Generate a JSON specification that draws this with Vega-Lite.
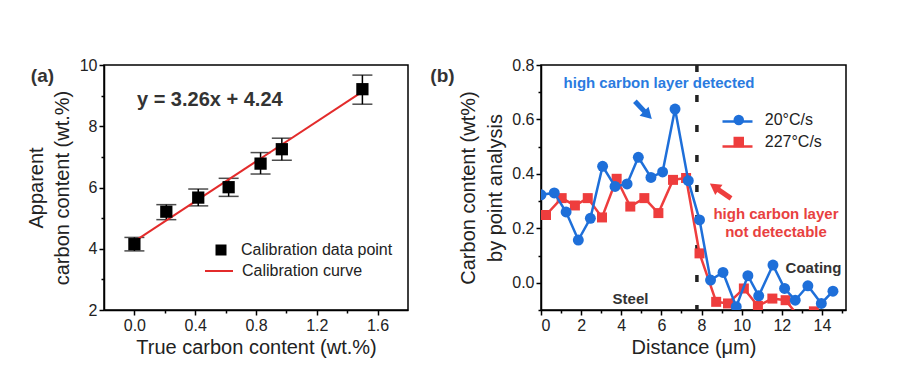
{
  "$schema": "https://vega.github.io/schema/vega-lite/v6.json",
  "background": "white",
  "padding": {"left": 25, "top": 56, "right": 0, "bottom": 0},
  "spacing": 20,
  "datasets": {
    "cal": [
      {"x": 0.0, "y": 4.15, "lo": 3.93, "hi": 4.37},
      {"x": 0.21, "y": 5.21, "lo": 4.95, "hi": 5.44},
      {"x": 0.42, "y": 5.67, "lo": 5.4, "hi": 5.95},
      {"x": 0.62, "y": 6.01, "lo": 5.71, "hi": 6.3},
      {"x": 0.83, "y": 6.78, "lo": 6.44, "hi": 7.14},
      {"x": 0.97, "y": 7.25, "lo": 6.89, "hi": 7.61},
      {"x": 1.5, "y": 9.21, "lo": 8.72, "hi": 9.67}
    ],
    "fit": [
      {"x": 0.02, "y": 4.305},
      {"x": 1.49, "y": 9.097}
    ],
    "eq": [{"x": 0.496, "y": 8.86, "text": "y = 3.26x + 4.24"}],
    "tagA": [{"x": -0.605, "y": 9.64, "text": "(a)"}],
    "blue": [
      {"x": 0, "y": 0.323, "rate": "20°C/s"},
      {"x": 0.66, "y": 0.33, "rate": "20°C/s"},
      {"x": 1.25, "y": 0.26, "rate": "20°C/s"},
      {"x": 1.86, "y": 0.157, "rate": "20°C/s"},
      {"x": 2.46, "y": 0.237, "rate": "20°C/s"},
      {"x": 3.07, "y": 0.428, "rate": "20°C/s"},
      {"x": 3.69, "y": 0.354, "rate": "20°C/s"},
      {"x": 4.29, "y": 0.363, "rate": "20°C/s"},
      {"x": 4.85, "y": 0.461, "rate": "20°C/s"},
      {"x": 5.48, "y": 0.387, "rate": "20°C/s"},
      {"x": 6.06, "y": 0.407, "rate": "20°C/s"},
      {"x": 6.68, "y": 0.638, "rate": "20°C/s"},
      {"x": 7.34, "y": 0.375, "rate": "20°C/s"},
      {"x": 7.9, "y": 0.231, "rate": "20°C/s"},
      {"x": 8.45, "y": 0.01, "rate": "20°C/s"},
      {"x": 9.07, "y": 0.038, "rate": "20°C/s"},
      {"x": 9.73, "y": -0.088, "rate": "20°C/s"},
      {"x": 10.31, "y": 0.026, "rate": "20°C/s"},
      {"x": 10.85, "y": -0.048, "rate": "20°C/s"},
      {"x": 11.56, "y": 0.065, "rate": "20°C/s"},
      {"x": 12.14, "y": -0.021, "rate": "20°C/s"},
      {"x": 12.67, "y": -0.064, "rate": "20°C/s"},
      {"x": 13.3, "y": -0.011, "rate": "20°C/s"},
      {"x": 13.97, "y": -0.076, "rate": "20°C/s"},
      {"x": 14.55, "y": -0.031, "rate": "20°C/s"}
    ],
    "red": [
      {"x": 0.25, "y": 0.249, "rate": "227°C/s"},
      {"x": 1.03, "y": 0.311, "rate": "227°C/s"},
      {"x": 1.69, "y": 0.284, "rate": "227°C/s"},
      {"x": 2.33, "y": 0.311, "rate": "227°C/s"},
      {"x": 3.04, "y": 0.24, "rate": "227°C/s"},
      {"x": 3.77, "y": 0.382, "rate": "227°C/s"},
      {"x": 4.45, "y": 0.28, "rate": "227°C/s"},
      {"x": 5.15, "y": 0.311, "rate": "227°C/s"},
      {"x": 5.85, "y": 0.256, "rate": "227°C/s"},
      {"x": 6.58, "y": 0.378, "rate": "227°C/s"},
      {"x": 7.23, "y": 0.385, "rate": "227°C/s"},
      {"x": 7.9, "y": 0.108, "rate": "227°C/s"},
      {"x": 8.73, "y": -0.07, "rate": "227°C/s"},
      {"x": 9.32, "y": -0.076, "rate": "227°C/s"},
      {"x": 10.11, "y": -0.021, "rate": "227°C/s"},
      {"x": 10.81, "y": -0.085, "rate": "227°C/s"},
      {"x": 11.53, "y": -0.058, "rate": "227°C/s"},
      {"x": 12.19, "y": -0.064, "rate": "227°C/s"},
      {"x": 12.9, "y": -0.13, "rate": "227°C/s"},
      {"x": 13.6, "y": -0.105, "rate": "227°C/s"},
      {"x": 14.3, "y": -0.14, "rate": "227°C/s"}
    ],
    "divider": [{"x": 7.77}],
    "blueText": [{"x": 5.88, "y": 0.734, "text": "high carbon layer detected"}],
    "redText": [
      {"x": 11.71, "y": 0.251, "text": "high carbon layer"},
      {"x": 11.71, "y": 0.188, "text": "not detectable"}
    ],
    "darkText": [
      {"x": 13.58, "y": 0.055, "text": "Coating"},
      {"x": 4.46, "y": -0.059, "text": "Steel"}
    ],
    "tagB": [{"x": -4.91, "y": 0.759, "text": "(b)"}],
    "blueShaft": [{"x": 4.68, "y": 0.667, "x2": 5.2, "y2": 0.626}],
    "blueHead": [{"x": 5.33, "y": 0.616}],
    "redShaft": [{"x": 9.47, "y": 0.31, "x2": 8.8, "y2": 0.344}],
    "redHead": [{"x": 8.64, "y": 0.353}]
  },
  "hconcat": [
    {
      "width": 304,
      "height": 245,
      "layer": [
        {
          "data": {"name": "cal"},
          "mark": {"type": "rule", "color": "black", "strokeWidth": 1.5},
          "encoding": {
            "x": {
              "field": "x", "type": "quantitative",
              "scale": {"domain": [-0.2, 1.8], "nice": false, "zero": false},
              "axis": {
                "values": [0, 0.2, 0.4, 0.6, 0.8, 1.0, 1.2, 1.4, 1.6],
                "tickCount": 40,
                "labelExpr": "abs(round(datum.value*10)%4)==0 ? format(datum.value,'.1f') : ''",
                "tickSize": {"condition": {"test": "abs(round(datum.value*10)%4)==0", "value": 5}, "value": 3},
                "title": "True carbon content (wt.%)",
                "titlePadding": 4
              }
            },
            "y": {
              "field": "lo", "type": "quantitative",
              "scale": {"domain": [2, 10], "nice": false, "zero": false},
              "axis": {
                "values": [2, 3, 4, 5, 6, 7, 8, 9, 10],
                "tickCount": 40,
                "labelExpr": "datum.value%2==0 ? format(datum.value,'d') : ''",
                "tickSize": {"condition": {"test": "datum.value%2==0", "value": 5}, "value": 3},
                "title": ["Apparent", "carbon content (wt.%)"],
                "titleLineHeight": 26,
                "titlePadding": 7
              }
            },
            "y2": {"field": "hi"}
          }
        },
        {
          "data": {"name": "cal"},
          "mark": {"type": "tick", "orient": "horizontal", "color": "black", "size": 20, "thickness": 1.5},
          "encoding": {
            "x": {"field": "x", "type": "quantitative"},
            "y": {"field": "lo", "type": "quantitative"}
          }
        },
        {
          "data": {"name": "cal"},
          "mark": {"type": "tick", "orient": "horizontal", "color": "black", "size": 20, "thickness": 1.5},
          "encoding": {
            "x": {"field": "x", "type": "quantitative"},
            "y": {"field": "hi", "type": "quantitative"}
          }
        },
        {
          "data": {"name": "fit"},
          "mark": {"type": "line", "strokeWidth": 2},
          "encoding": {
            "x": {"field": "x", "type": "quantitative"},
            "y": {"field": "y", "type": "quantitative"},
            "stroke": {
              "datum": "Calibration curve",
              "scale": {"domain": ["Calibration curve"], "range": ["#e32b2b"]},
              "legend": {
                "orient": "none", "legendX": 100, "legendY": 191, "title": null,
                "labelFontSize": 16, "labelColor": "#222",
                "symbolType": "stroke", "symbolSize": 784, "symbolStrokeWidth": 2,
                "symbolOffset": 0, "labelOffset": 8, "padding": 0
              }
            }
          }
        },
        {
          "data": {"name": "cal"},
          "mark": {"type": "point", "shape": "square", "filled": true, "size": 150, "opacity": 1},
          "encoding": {
            "x": {"field": "x", "type": "quantitative"},
            "y": {"field": "y", "type": "quantitative"},
            "fill": {
              "datum": "Calibration data point",
              "scale": {"domain": ["Calibration data point"], "range": ["black"]},
              "legend": {
                "orient": "none", "legendX": 100, "legendY": 177, "title": null,
                "labelFontSize": 16, "labelColor": "#222",
                "symbolType": "square", "symbolSize": 121, "symbolOpacity": 1,
                "symbolOffset": 9, "labelOffset": 12, "padding": 0
              }
            }
          }
        },
        {
          "data": {"name": "eq"},
          "mark": {"type": "text", "fontSize": 20, "fontWeight": "bold", "color": "#333"},
          "encoding": {
            "x": {"field": "x", "type": "quantitative"},
            "y": {"field": "y", "type": "quantitative"},
            "text": {"field": "text"}
          }
        },
        {
          "data": {"name": "tagA"},
          "mark": {"type": "text", "fontSize": 19, "fontWeight": "bold", "color": "#333"},
          "encoding": {
            "x": {"field": "x", "type": "quantitative"},
            "y": {"field": "y", "type": "quantitative"},
            "text": {"field": "text"}
          }
        }
      ]
    },
    {
      "width": 305,
      "height": 245,
      "layer": [
        {
          "data": {"name": "divider"},
          "mark": {"type": "rule", "color": "#222", "strokeWidth": 3.5, "strokeDash": [7, 23]},
          "encoding": {
            "x": {
              "field": "x", "type": "quantitative",
              "scale": {"domain": [0, 15.2], "nice": false, "zero": false},
              "axis": {
                "values": [0, 1, 2, 3, 4, 5, 6, 7, 8, 9, 10, 11, 12, 13, 14, 15],
                "tickCount": 40,
                "labelExpr": "datum.value%2==0 ? format(datum.value,'d') : ''",
                "tickSize": {"condition": {"test": "datum.value%2==0", "value": 5}, "value": 3},
                "title": "Distance (μm)",
                "titlePadding": 4
              }
            }
          }
        },
        {
          "data": {"name": "red"},
          "mark": {"type": "line", "strokeWidth": 2.5, "clip": true},
          "encoding": {
            "x": {"field": "x", "type": "quantitative"},
            "y": {
              "field": "y", "type": "quantitative",
              "scale": {"domain": [-0.1, 0.8], "nice": false, "zero": false},
              "axis": {
                "values": [-0.1, 0, 0.1, 0.2, 0.3, 0.4, 0.5, 0.6, 0.7, 0.8],
                "tickCount": 40,
                "labelExpr": "(datum.value == 0 || datum.value == 0.2 || datum.value == 0.4 || datum.value == 0.6 || datum.value == 0.8) ? format(datum.value, '.1f') : ''",
                "tickSize": {"condition": {"test": "datum.value == 0 || datum.value == 0.2 || datum.value == 0.4 || datum.value == 0.6 || datum.value == 0.8", "value": 5}, "value": 3},
                "title": ["Carbon content (wt%)", "by point analysis"],
                "titleLineHeight": 27,
                "titlePadding": 6
              }
            },
            "stroke": {
              "field": "rate", "type": "nominal",
              "scale": {"domain": ["20°C/s", "227°C/s"], "range": ["#1e6fd9", "#ee3d3d"]},
              "legend": {
                "orient": "none", "legendX": 180, "legendY": 40, "title": null,
                "labelFontSize": 16, "labelExpr": "''",
                "symbolType": "stroke", "symbolSize": 900, "symbolStrokeWidth": 2.5,
                "symbolOffset": 0, "labelOffset": 0, "rowPadding": -10, "padding": 0
              }
            }
          }
        },
        {
          "data": {"name": "red"},
          "mark": {"type": "point", "filled": true, "size": 100, "opacity": 1, "clip": true},
          "encoding": {
            "x": {"field": "x", "type": "quantitative"},
            "y": {"field": "y", "type": "quantitative"},
            "fill": {"field": "rate", "type": "nominal"},
            "shape": {"field": "rate", "type": "nominal"}
          }
        },
        {
          "data": {"name": "blue"},
          "mark": {"type": "line", "strokeWidth": 2.5, "clip": true},
          "encoding": {
            "x": {"field": "x", "type": "quantitative"},
            "y": {"field": "y", "type": "quantitative"},
            "stroke": {"field": "rate", "type": "nominal"}
          }
        },
        {
          "data": {"name": "blue"},
          "mark": {"type": "point", "filled": true, "size": 120, "opacity": 1, "clip": true},
          "encoding": {
            "x": {"field": "x", "type": "quantitative"},
            "y": {"field": "y", "type": "quantitative"},
            "fill": {
              "field": "rate", "type": "nominal",
              "scale": {"range": ["#1e6fd9", "#ee3d3d"]},
              "legend": {
                "orient": "none", "legendX": 180, "legendY": 47, "title": null,
                "labelFontSize": 16, "labelColor": "#222",
                "symbolSize": 110, "symbolOpacity": 1,
                "symbolOffset": 9.75, "labelOffset": 18, "rowPadding": 4, "padding": 0
              }
            },
            "shape": {
              "field": "rate", "type": "nominal",
              "scale": {"range": ["circle", "square"]}
            }
          }
        },
        {
          "data": {"name": "blueShaft"},
          "mark": {"type": "rule", "color": "#1e6fd9", "strokeWidth": 5},
          "encoding": {
            "x": {"field": "x", "type": "quantitative"},
            "y": {"field": "y", "type": "quantitative"},
            "x2": {"field": "x2"},
            "y2": {"field": "y2"}
          }
        },
        {
          "data": {"name": "blueHead"},
          "mark": {"type": "point", "shape": "triangle-right", "filled": true, "size": 160, "angle": 45, "color": "#1e6fd9", "opacity": 1},
          "encoding": {
            "x": {"field": "x", "type": "quantitative"},
            "y": {"field": "y", "type": "quantitative"}
          }
        },
        {
          "data": {"name": "redShaft"},
          "mark": {"type": "rule", "color": "#ee3d3d", "strokeWidth": 5},
          "encoding": {
            "x": {"field": "x", "type": "quantitative"},
            "y": {"field": "y", "type": "quantitative"},
            "x2": {"field": "x2"},
            "y2": {"field": "y2"}
          }
        },
        {
          "data": {"name": "redHead"},
          "mark": {"type": "point", "shape": "triangle-right", "filled": true, "size": 160, "angle": 215, "color": "#ee3d3d", "opacity": 1},
          "encoding": {
            "x": {"field": "x", "type": "quantitative"},
            "y": {"field": "y", "type": "quantitative"}
          }
        },
        {
          "data": {"name": "blueText"},
          "mark": {"type": "text", "fontSize": 15, "fontWeight": "bold", "color": "#2a7be0"},
          "encoding": {
            "x": {"field": "x", "type": "quantitative"},
            "y": {"field": "y", "type": "quantitative"},
            "text": {"field": "text"}
          }
        },
        {
          "data": {"name": "redText"},
          "mark": {"type": "text", "fontSize": 15, "fontWeight": "bold", "color": "#e8413f"},
          "encoding": {
            "x": {"field": "x", "type": "quantitative"},
            "y": {"field": "y", "type": "quantitative"},
            "text": {"field": "text"}
          }
        },
        {
          "data": {"name": "darkText"},
          "mark": {"type": "text", "fontSize": 15, "fontWeight": "bold", "color": "#333"},
          "encoding": {
            "x": {"field": "x", "type": "quantitative"},
            "y": {"field": "y", "type": "quantitative"},
            "text": {"field": "text"}
          }
        },
        {
          "data": {"name": "tagB"},
          "mark": {"type": "text", "fontSize": 19, "fontWeight": "bold", "color": "#333"},
          "encoding": {
            "x": {"field": "x", "type": "quantitative"},
            "y": {"field": "y", "type": "quantitative"},
            "text": {"field": "text"}
          }
        }
      ]
    }
  ],
  "resolve": {
    "scale": {"color": "independent", "fill": "independent", "stroke": "independent", "shape": "independent"},
    "legend": {"color": "independent", "fill": "independent", "stroke": "independent", "shape": "independent"}
  },
  "config": {
    "font": "Liberation Sans",
    "view": {"stroke": "black", "strokeWidth": 1.5},
    "axis": {
      "grid": false,
      "domainColor": "black",
      "domainWidth": 1.5,
      "tickColor": "black",
      "tickWidth": 1.5,
      "tickSize": 4,
      "labelPadding": 2,
      "labelFontSize": 16,
      "labelColor": "#222",
      "titleFontSize": 20,
      "titleFontWeight": "normal",
      "titleColor": "#222"
    }
  }
}
